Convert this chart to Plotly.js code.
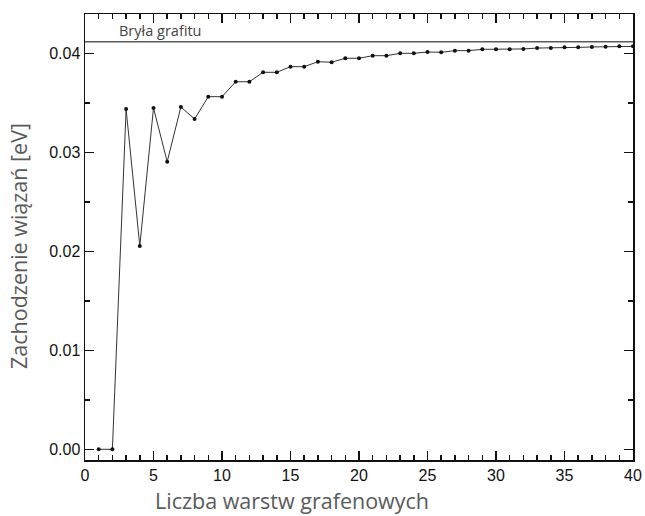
<!DOCTYPE html>
<html>
<head>
<meta charset="utf-8">
<script src="https://cdn.plot.ly/plotly-3.0.1.min.js"></script>
<style>html,body{margin:0;padding:0;background:#fff;}#chart{width:645px;height:516px;}</style>
</head>
<body>
<div id="chart"></div>
<script>
const layers = [1,2,3,4,5,6,7,8,9,10,11,12,13,14,15,16,17,18,19,20,21,22,23,24,25,26,27,28,29,30,31,32,33,34,35,36,37,38,39,40];
const overlap = [0, 0, 0.03437, 0.02054, 0.03448, 0.02905, 0.03458, 0.03336, 0.03562, 0.03562,
  0.03713, 0.03713, 0.03808, 0.03808, 0.03865, 0.03865, 0.03915, 0.03910, 0.03950, 0.03950,
  0.03976, 0.03976, 0.04000, 0.04000, 0.04013, 0.04010, 0.04027, 0.04027, 0.04040, 0.04040,
  0.04040, 0.04044, 0.04053, 0.04053, 0.04060, 0.04060, 0.04064, 0.04067, 0.04070, 0.04070];
const bulkX = [0, 40];
const bulkY = [0.04117, 0.04117];
const bulkLabel = "Bryła grafitu";
const xTitle = "Liczba warstw grafenowych";
const yTitle = "Zachodzenie wiązań [eV]";

const traces = [
  {x: bulkX, y: bulkY, mode: 'lines', line: {color: '#5a5a5a', width: 1.5}, hoverinfo: 'skip', showlegend: false},
  {x: layers, y: overlap, mode: 'lines+markers', line: {color: '#333', width: 1}, marker: {color: '#111', size: 4}, cliponaxis: false, showlegend: false}
];

const axisCommon = {
  showline: true, linecolor: '#111', linewidth: 1.5, mirror: 'ticks',
  ticks: 'inside', ticklen: 9, tickwidth: 1.5, tickcolor: '#111',
  showgrid: false, zeroline: false,
  tickfont: {family: 'Liberation Sans, Arial, sans-serif', size: 16, color: '#111'}
};

const titleFont = {family: 'Open Sans, sans-serif', size: 21.5, color: '#5a5a5a'};

const layout = {
  width: 645, height: 516,
  margin: {l: 85, r: 12, t: 14, b: 56},
  paper_bgcolor: '#fff', plot_bgcolor: '#fff',
  showlegend: false,
  xaxis: Object.assign({}, axisCommon, {
    range: [0, 40], dtick: 5, tick0: 0,
    minor: {dtick: 1, ticks: 'inside', ticklen: 5, tickwidth: 1.5, tickcolor: '#111', showgrid: false}
  }),
  yaxis: Object.assign({}, axisCommon, {
    range: [-0.00108, 0.04397], dtick: 0.01, tick0: 0, tickformat: '.2f',
    minor: {dtick: 0.005, ticks: 'inside', ticklen: 5, tickwidth: 1.5, tickcolor: '#111', showgrid: false}
  }),
  annotations: [
    {xref: 'paper', yref: 'paper', x: (292-85)/548, y: (460-500)/446, xanchor: 'center', yanchor: 'middle',
     text: xTitle, showarrow: false, font: titleFont},
    {xref: 'paper', yref: 'paper', x: (19-85)/548, y: (460-246)/446, xanchor: 'center', yanchor: 'middle',
     textangle: -90, text: yTitle, showarrow: false, font: titleFont},
    {xref: 'x', yref: 'y', x: 2.3, y: 0.04117, xanchor: 'left', yanchor: 'bottom', yshift: 0,
     text: bulkLabel, showarrow: false, font: {family: 'Open Sans, sans-serif', size: 14.5, color: '#444'}}
  ]
};

Plotly.newPlot('chart', traces, layout, {displayModeBar: false, staticPlot: true});
</script>
</body>
</html>
